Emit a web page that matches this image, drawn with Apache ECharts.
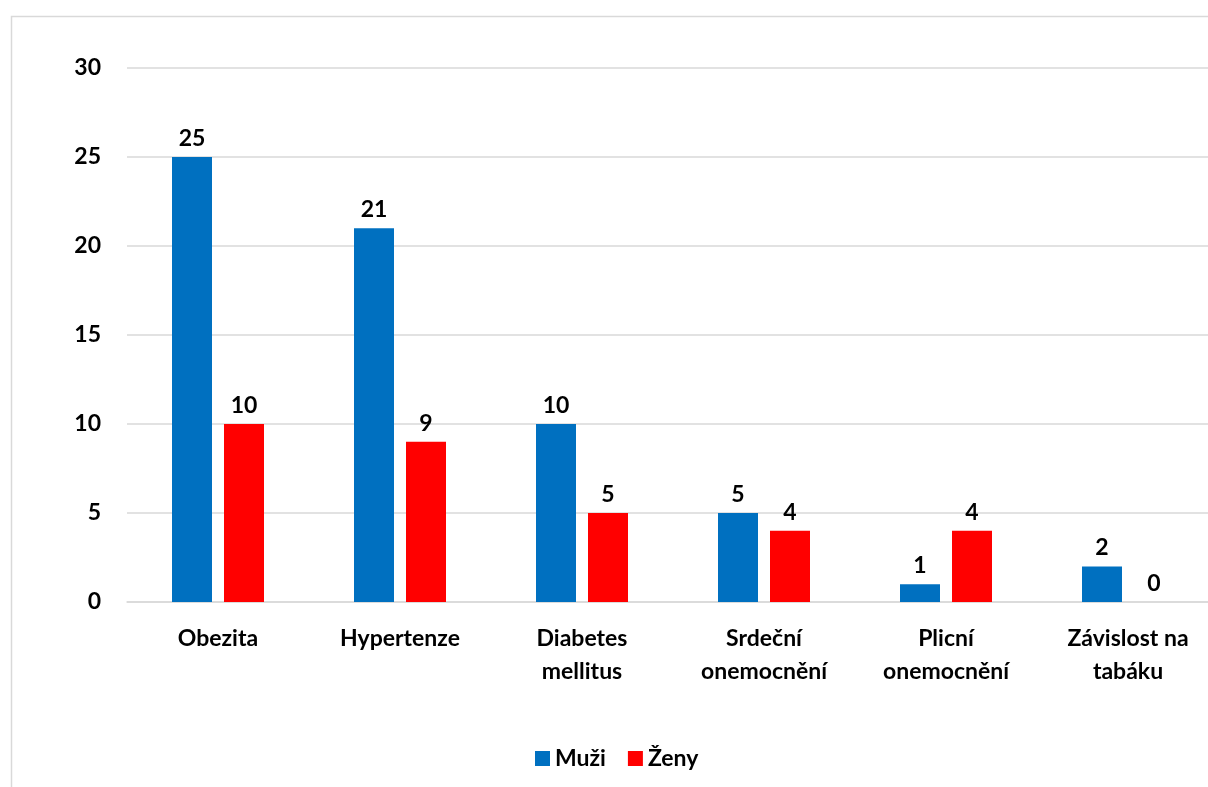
<!DOCTYPE html>
<html>
<head>
<meta charset="utf-8">
<script src="https://cdn.jsdelivr.net/npm/echarts@6/dist/echarts.min.js"></script>
<style>
  html, body { margin: 0; padding: 0; background: #fff; }
  #chart { width: 1208px; height: 787px; }
</style>
</head>
<body>
<div id="chart"></div>
<script>
const categories = ['Obezita', 'Hypertenze', 'Diabetes\nmellitus', 'Srdeční\nonemocnění', 'Plicní\nonemocnění', 'Závislost na\ntabáku'];
const muzi = [25, 21, 10, 5, 1, 2];
const zeny = [10, 9, 5, 4, 4, 0];
const yTicks = { min: 0, max: 30, interval: 5 };

const FONT = 'Lato, "Open Sans", sans-serif';
const FS = 23;
const chart = echarts.init(document.getElementById('chart'));
const labelStyle = {
  show: true,
  position: 'top',
  distance: 7,
  fontFamily: FONT,
  fontWeight: 'bold',
  fontSize: FS,
  color: '#000'
};

chart.setOption({
  animation: false,
  graphic: [{
    type: 'rect',
    left: 9, top: 14,
    shape: { width: 1400, height: 900 },
    style: { fill: 'none', stroke: '#d9d9d9', lineWidth: 1.5 },
    z: -10
  }],
  legend: {
    bottom: 12,
    left: 530,
    itemWidth: 15,
    itemHeight: 15,
    itemGap: 22,
    icon: 'rect',
    textStyle: { fontFamily: FONT, fontWeight: 'bold', fontSize: FS, color: '#000' },
    data: ['Muži', 'Ženy']
  },
  grid: { left: 127, top: 68, right: -11, bottom: 185, outerBoundsMode: 'none', containLabel: false },
  xAxis: {
    type: 'category',
    data: categories,
    axisLine: { lineStyle: { color: '#d9d9d9', width: 1.5 } },
    axisTick: { show: false },
    axisLabel: {
      margin: 20,
      fontFamily: FONT,
      fontWeight: 'bold',
      fontSize: FS,
      lineHeight: 33,
      color: '#000',
      interval: 0
    }
  },
  yAxis: {
    type: 'value',
    min: yTicks.min,
    max: yTicks.max,
    interval: yTicks.interval,
    axisLine: { show: false },
    axisTick: { show: false },
    axisLabel: {
      margin: 26,
      fontFamily: FONT,
      fontWeight: 'bold',
      fontSize: FS,
      color: '#000'
    },
    splitLine: { lineStyle: { color: '#d9d9d9', width: 1.5 } }
  },
  series: [
    {
      name: 'Muži',
      type: 'bar',
      data: muzi,
      barWidth: 40,
      barGap: '30%',
      itemStyle: { color: '#0070C0' },
      label: labelStyle
    },
    {
      name: 'Ženy',
      type: 'bar',
      data: zeny,
      barWidth: 40,
      itemStyle: { color: '#FF0000' },
      label: labelStyle
    }
  ]
});
</script>
</body>
</html>
